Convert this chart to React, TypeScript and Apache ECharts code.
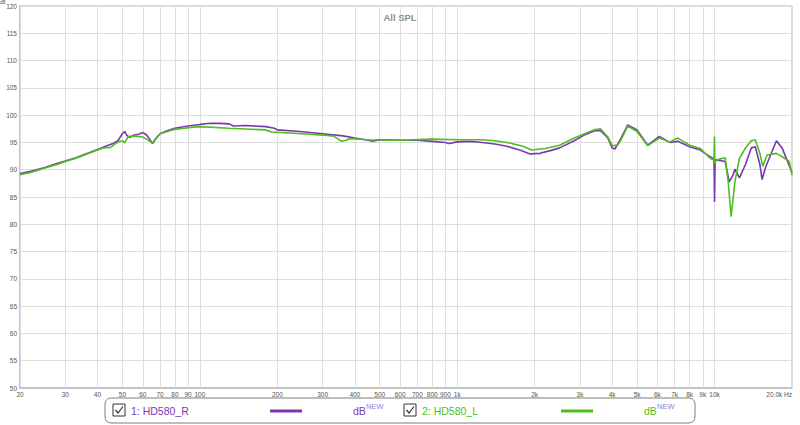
import React, { useEffect, useRef } from 'react';
import * as echarts from 'echarts';

// ---- data ----
const xTickFreqs = [20, 30, 40, 50, 60, 70, 80, 90, 100, 200, 300, 400, 500, 600, 700, 800, 900, 1000, 2000, 3000, 4000, 5000, 6000, 7000, 8000, 9000, 10000, 20000];
const xTickLabels = ['20', '30', '40', '50', '60', '70', '80', '90', '100', '200', '300', '400', '500', '600', '700', '800', '900', '1k', '2k', '3k', '4k', '5k', '6k', '7k', '8k', '9k', '10k', '20.0k Hz'];

const seriesNames = ['1: HD580_R', '2: HD580_L'];
const unitLabel = 'dB';
const unitSup = 'NEW';
const titleText = 'All SPL';
const yName = 'dB';

const rFreq = [20, 22, 25, 28, 30, 33, 36, 40, 43, 46, 48, 50, 51, 52, 53.5, 55, 58, 60, 62, 64, 65.5, 67, 70, 75, 80, 90, 100, 110, 120, 130, 135, 150, 180, 195, 200, 245, 300, 360, 400, 450, 470, 500, 600, 700, 800, 900, 930, 1000, 1130, 1250, 1400, 1560, 1750, 1920, 2100, 2300, 2500, 2850, 3100, 3400, 3600, 3850, 4000, 4100, 4300, 4600, 5000, 5500, 6100, 6700, 7200, 8000, 8800, 9600, 9950, 10000, 10050, 10200, 11000, 11400, 11800, 12000, 12500, 13200, 13900, 14400, 15000, 15300, 15800, 17400, 18300, 20000];
const rSpl = [89.3, 89.7, 90.4, 91.2, 91.6, 92.2, 92.9, 93.7, 94.3, 94.8, 95.3, 96.6, 97.0, 96.3, 95.9, 96.3, 96.5, 96.8, 96.4, 95.5, 94.8, 95.5, 96.6, 97.2, 97.6, 98.0, 98.3, 98.5, 98.5, 98.4, 98.0, 98.1, 97.9, 97.6, 97.3, 97.0, 96.6, 96.2, 95.8, 95.4, 95.2, 95.5, 95.4, 95.4, 95.2, 95.0, 94.8, 95.1, 95.2, 95.0, 94.7, 94.3, 93.6, 92.9, 93.0, 93.5, 94.0, 95.3, 96.3, 97.1, 97.2, 95.8, 94.0, 93.8, 95.5, 98.2, 97.3, 94.5, 96.1, 95.0, 95.2, 94.2, 93.6, 92.4, 92.0, 84.1, 91.8, 91.8, 91.5, 87.8, 89.0, 90.1, 88.5, 91.0, 94.0, 94.2, 91.0, 88.2, 90.5, 95.3, 94.0, 89.5];

const lFreq = [20, 22, 25, 28, 30, 33, 36, 40, 42, 45, 47, 49, 50, 51, 52.5, 55, 60, 62, 64, 65.5, 67, 70, 80, 90, 100, 130, 180, 190, 250, 330, 345, 355, 370, 385, 450, 600, 800, 1000, 1250, 1400, 1600, 1800, 1950, 2200, 2500, 2850, 3400, 3600, 3850, 4000, 4200, 4300, 4600, 5000, 5500, 6100, 6700, 7200, 8000, 8800, 9600, 9950, 10000, 10020, 10200, 11000, 11300, 11600, 12000, 12500, 13200, 13900, 14400, 15000, 15400, 16000, 17400, 18300, 19500, 20000];
const lSpl = [89.1, 89.5, 90.3, 91.0, 91.5, 92.1, 92.8, 93.6, 94.0, 94.1, 94.8, 95.2, 95.3, 94.9, 96.0, 96.2, 96.0, 95.6, 95.2, 94.9, 95.6, 96.6, 97.4, 97.7, 97.9, 97.6, 97.3, 96.9, 96.6, 96.2, 95.6, 95.2, 95.4, 95.7, 95.5, 95.4, 95.6, 95.5, 95.5, 95.3, 94.9, 94.3, 93.6, 93.9, 94.5, 95.8, 97.3, 97.5, 96.0, 94.4, 94.5, 95.2, 98.0, 97.0, 94.4, 95.8, 95.1, 95.8, 94.5, 93.9, 92.1, 91.8, 96.1, 91.2, 91.8, 92.2, 87.8, 81.4, 87.8, 92.1, 94.0, 95.3, 95.5, 93.0, 90.6, 92.7, 93.0, 92.4, 91.5, 89.0];

const purple = '#7d36b3';
const green = '#4cbf1c';

export default function App() {
  const ref = useRef<HTMLDivElement>(null);

  useEffect(() => {
    if (!ref.current) return;
    const chart = echarts.init(ref.current, undefined, { renderer: 'svg' });
    const tickVals = xTickFreqs.map((f) => Math.log10(f));
    const fmtX = (v: number) => {
      const idx = tickVals.findIndex((t) => Math.abs(t - v) < 1e-6);
      return idx >= 0 ? xTickLabels[idx] : '';
    };
    const font = 'Liberation Sans, Arial, sans-serif';

    const legendItem = (i: number, x0: number, color: string) => [
      { type: 'rect', shape: { x: x0, y: 404, width: 12, height: 12 }, style: { fill: '#fff', stroke: '#333', lineWidth: 1 } },
      { type: 'polyline', shape: { points: [[x0 + 2.5, 410], [x0 + 5, 413], [x0 + 10, 406.5]] }, style: { stroke: '#333', lineWidth: 1.2, fill: 'none' } },
      { type: 'text', x: x0 + 18, y: 410.5, style: { text: seriesNames[i], fill: color, fontSize: 10.5, fontFamily: font, verticalAlign: 'middle' } },
      { type: 'line', shape: { x1: x0 + 157, y1: 411, x2: x0 + 189, y2: 411 }, style: { stroke: color, lineWidth: 3 } },
      { type: 'text', x: x0 + 240, y: 411, style: { text: unitLabel, fill: color, fontSize: 10.5, fontFamily: font, verticalAlign: 'middle' } },
      { type: 'text', x: x0 + 253, y: 406, style: { text: unitSup, fill: '#8a80e0', fontSize: 7.5, fontFamily: font, verticalAlign: 'middle' } },
    ];

    chart.setOption({
      animation: false,
      backgroundColor: '#fff',
      title: {
        text: titleText,
        left: 'center',
        top: 7,
        textStyle: { fontSize: 9.5, fontWeight: 'bold', color: '#8f8f8f', fontFamily: font },
      },
      grid: {
        left: 20,
        right: 8,
        top: 6,
        bottom: 37,
        show: true,
        borderColor: '#b5b5b5',
        borderWidth: 1,
        containLabel: false,
        outerBoundsMode: 'none',
      },
      xAxis: {
        type: 'value',
        min: Math.log10(20),
        max: Math.log10(20000),
        axisLine: { show: true, onZero: false, lineStyle: { color: '#c4c4c4', width: 2 } },
        axisTick: {
          show: true,
          customValues: tickVals,
          inside: true,
          length: 382,
          lineStyle: { color: '#dedede', width: 1 },
        },
        axisLabel: {
          customValues: tickVals,
          formatter: fmtX,
          fontSize: 6.5,
          color: '#555',
          fontFamily: font,
          margin: 3,
          alignMaxLabel: 'right',
        },
        splitLine: { show: false },
      },
      yAxis: {
        type: 'value',
        min: 50,
        max: 120,
        interval: 5,
        axisLine: { show: true, lineStyle: { color: '#c4c4c4', width: 2 } },
        axisTick: { show: false },
        axisLabel: { fontSize: 6.5, color: '#555', fontFamily: font, margin: 3 },
        splitLine: { show: true, lineStyle: { color: '#dedede', width: 1 } },
      },
      series: [
        {
          name: seriesNames[0],
          type: 'line',
          symbol: 'none',
          z: 2,
          lineStyle: { color: purple, width: 1.6 },
          data: rFreq.map((f, i) => [Math.log10(f), rSpl[i]]),
        },
        {
          name: seriesNames[1],
          type: 'line',
          symbol: 'none',
          z: 3,
          lineStyle: { color: green, width: 1.6 },
          data: lFreq.map((f, i) => [Math.log10(f), lSpl[i]]),
        },
      ],
      graphic: [
        { type: 'text', x: 0, y: 0, style: { text: yName, fill: '#555', fontSize: 4.5, fontFamily: font } },
        { type: 'rect', shape: { x: 105, y: 398, width: 590, height: 25, r: 6 }, style: { fill: '#fff', stroke: '#7a7a7a', lineWidth: 1 } },
        ...legendItem(0, 113, purple),
        ...legendItem(1, 404, green),
      ],
    });
    return () => chart.dispose();
  }, []);

  return <div ref={ref} style={{ position: 'fixed', left: 0, top: 0, width: 800, height: 425 }} />;
}
